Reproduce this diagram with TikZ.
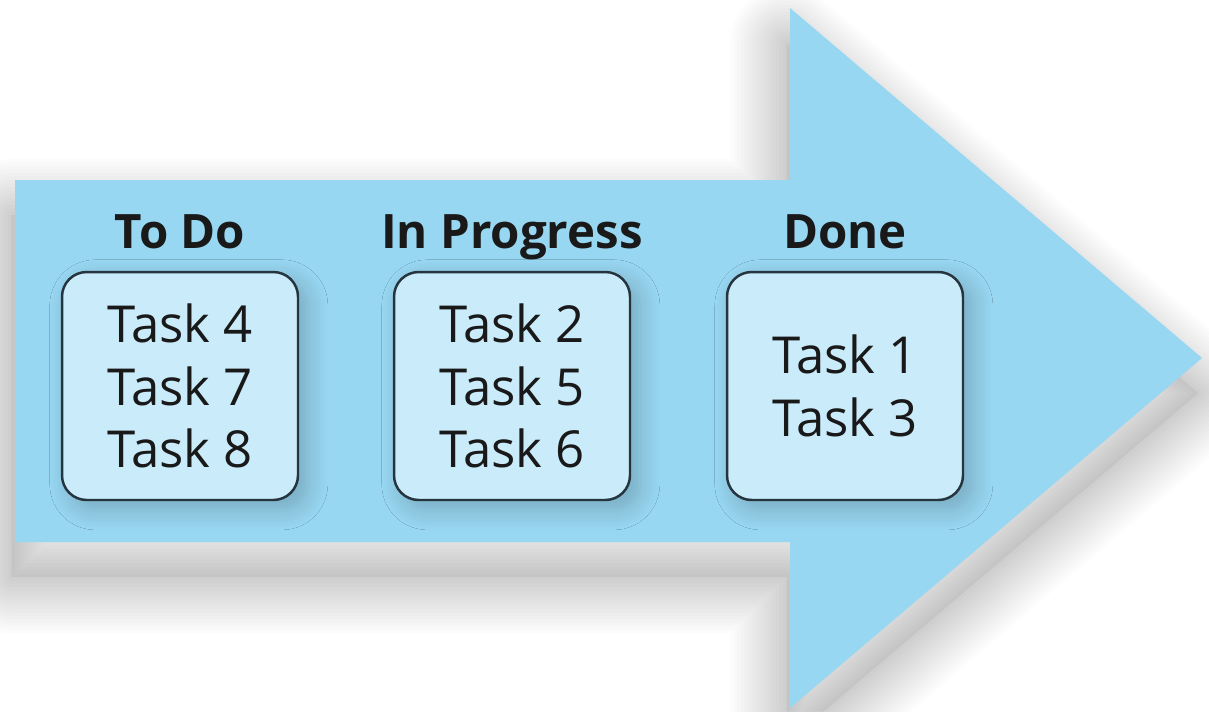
\documentclass[tikz,border=0pt]{standalone}
\usepackage{fontspec}
\setmainfont{Open Sans}
\usepackage{tikz}
\usetikzlibrary{positioning,shadows.blur}
\definecolor{myskyblue}{RGB}{152,215,242}
\definecolor{mypaleblue}{RGB}{202,235,250}
\definecolor{myslate}{RGB}{38,52,62}
\definecolor{myink}{RGB}{25,25,25}
\newcommand{\arrowpath}{(15,180) -- (790,180) -- (790,8) -- (1202,358) -- (790,708) -- (790,542) -- (15,542) -- cycle}

\begin{document}
\begin{tikzpicture}[
  x=0.02cm, y=-0.02cm,
  mybox/.style={
    draw=myslate,
    line width=1.4pt,
    fill=mypaleblue,
    rounded corners=14pt,
    minimum width=4.72cm,
    minimum height=4.56cm,
    align=center,
    text=myink,
    font=\fontsize{29}{35.5}\selectfont,
    blur shadow={shadow xshift=5pt, shadow yshift=-5pt, shadow blur radius=12pt, shadow blur steps=12, shadow opacity=22}
    },
  myhead/.style={
    font=\bfseries\fontsize{27}{32}\selectfont,
    text=myink,
    inner sep=0pt,
    text depth=0.25em
    }
]

\fill[white] (0,0) rectangle (1209,711);
\useasboundingbox (0,0) rectangle (1209,711);

% soft shadow of the arrow
\begin{scope}[xshift=-2pt, yshift=-20pt]
  \fill[black, opacity=0.04] \arrowpath;
  \foreach \w in {4,8,...,64}
    \draw[black, draw opacity=0.01, line width=\w pt, line join=round] \arrowpath;
\end{scope}

% the big arrow
\fill[myskyblue] \arrowpath;

\node[mybox] (todo) at (180,386)
  {Task 4\\Task 7\\Task 8};
\node[mybox] (progress) at (512,386)
  {Task 2\\Task 5\\Task 6};
\node[mybox] (done) at (845,386)
  {Task 1\\Task 3};

\node[myhead, above=10pt of todo] (todohead) {To Do};
\node[myhead, above=10pt of progress] (progresshead) {In Progress};
\node[myhead, above=10pt of done] (donehead) {Done};
\end{tikzpicture}
\end{document}
